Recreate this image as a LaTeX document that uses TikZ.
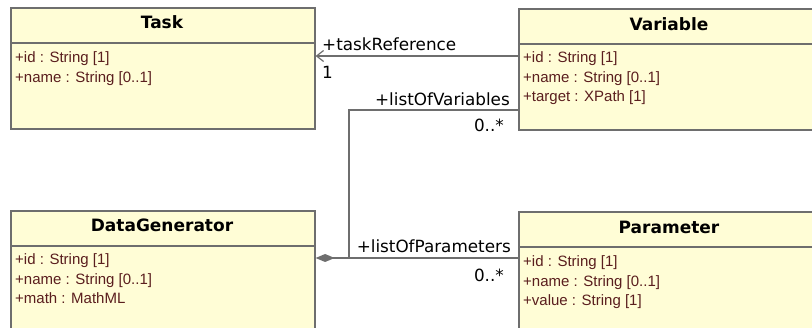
\documentclass[tikz,border=0pt]{standalone}
\usepackage{fontspec}
\usetikzlibrary{arrows.meta}
\newfontfamily\headfont{DejaVu Sans}
\newfontfamily\attrfont{Liberation Sans}
\definecolor{classfill}{HTML}{FFFDD6}
\definecolor{classline}{HTML}{6E6E6E}
\definecolor{attrtext}{HTML}{5A1E1E}
\definecolor{wire}{HTML}{6E6E6E}
\tikzset{
  classbox/.style={draw=classline, fill=classfill, line width=1.6pt, anchor=north west, inner sep=0pt},
  divider/.style={draw=classline, line width=1.6pt},
  classname/.style={font=\headfont\bfseries\fontsize{17}{19}\selectfont, anchor=base, inner sep=0pt},
  attr/.style={font=\attrfont\fontsize{15}{18}\selectfont, text=attrtext, anchor=base west, inner sep=0pt},
  role/.style={font=\headfont\fontsize{16.8}{19}\selectfont, inner sep=0pt},
  assoc/.style={draw=wire, line width=1.4pt},
}
\begin{document}
\begin{tikzpicture}[x=1pt, y=-1pt]
\useasboundingbox (0,0) rectangle (812,328);
\clip (0,0) rectangle (812,328);

% Task
\node[classbox, minimum width=304pt, minimum height=121pt] (task) at (10,7) {};
\draw[divider] (10,43) -- (314,43);
\node[classname] (taskname) at (162,29) {Task};
\node[attr] (taska1) at (15,63) {+id : String [1]};
\node[attr] (taska2) at (15,82.5) {+name : String [0..1]};

% Variable
\node[classbox, minimum width=302pt, minimum height=121pt] (var) at (518,8) {};
\draw[divider] (518,44) -- (820,44);
\node[classname] (varname) at (669,31) {Variable};
\node[attr] (vara1) at (523,63) {+id : String [1]};
\node[attr] (vara2) at (523,82.5) {+name : String [0..1]};
\node[attr] (vara3) at (523,102) {+target : XPath [1]};

% DataGenerator
\node[classbox, minimum width=304pt, minimum height=140pt] (dg) at (10,210) {};
\draw[divider] (10,246) -- (314,246);
\node[classname] (dgname) at (162,232) {DataGenerator};
\node[attr] (dga1) at (15,265) {+id : String [1]};
\node[attr] (dga2) at (15,284.5) {+name : String [0..1]};
\node[attr] (dga3) at (15,304) {+math : MathML};

% Parameter
\node[classbox, minimum width=302pt, minimum height=140pt] (par) at (518,211) {};
\draw[divider] (518,247) -- (820,247);
\node[classname] (parname) at (669,234) {Parameter};
\node[attr] (para1) at (523,267) {+id : String [1]};
\node[attr] (para2) at (523,286.5) {+name : String [0..1]};
\node[attr] (para3) at (523,306) {+value : String [1]};

% Variable -> Task (navigable reference)
\draw[assoc, -{Straight Barb[length=7pt, width=11pt, line width=1.2pt]}]
  (var.west |- 0,56) -- (task.east |- 0,56);
\node[role, anchor=base west] (trlabel) at (322,51) {+taskReference};
\node[role, anchor=base west] (trmult) at (322,79) {1};

% DataGenerator composes Variables and Parameters
\coordinate (bend) at (349,110);
\draw[assoc] (var.west |- 0,110) -- (bend) -- (bend |- 0,258);
\draw[assoc, {Diamond[length=19pt, width=8pt]}-]
  (dg.east |- 0,258) -- (par.west |- 0,258);
\node[role, anchor=base east] (lvlabel) at (510,106) {+listOfVariables};
\node[role, anchor=base east] (lvmult) at (504,132) {0..*};
\node[role, anchor=base east] (lplabel) at (511,253) {+listOfParameters};
\node[role, anchor=base east] (lpmult) at (504,282) {0..*};
\end{tikzpicture}
\end{document}
